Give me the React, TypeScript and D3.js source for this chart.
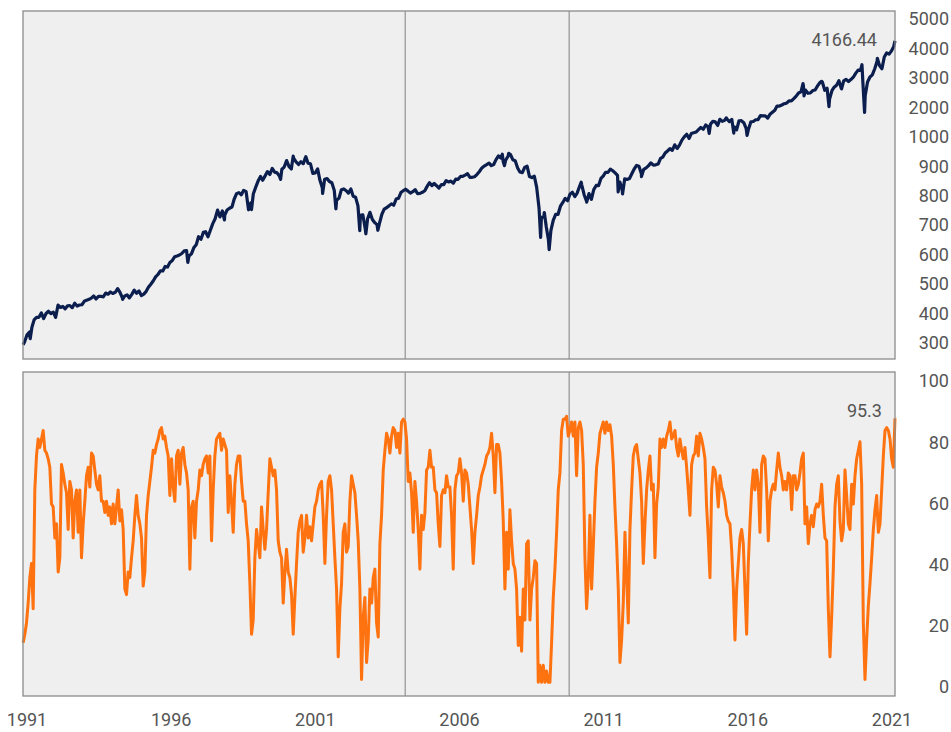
import React from "react";
import * as d3 from "d3";

// S&P 500 month-end closes, Oct 1990 .. Mar 2021
const spxFirstMonth = "1990-10";
const spxMonthly = [
  304.0, 322.2, 330.2,
  343.9, 367.1, 375.2, 375.3, 389.8, 371.2, 387.8, 395.4, 387.9, 392.5, 375.2, 417.1,
  408.8, 412.7, 403.7, 414.9, 415.4, 408.1, 424.2, 414.0, 417.8, 418.7, 431.4, 435.7,
  438.8, 443.4, 451.7, 440.2, 450.2, 450.5, 448.1, 463.6, 458.9, 467.8, 461.8, 466.5,
  481.6, 467.1, 445.8, 450.9, 456.5, 444.3, 458.3, 475.5, 462.7, 472.4, 453.7, 459.3,
  470.4, 487.4, 500.7, 514.7, 533.4, 544.8, 562.1, 561.9, 584.4, 581.5, 605.4, 615.9,
  636.0, 640.4, 645.5, 654.2, 669.1, 670.6, 639.9, 652.0, 687.3, 705.3, 757.0, 740.7,
  786.2, 790.8, 757.1, 801.3, 848.3, 885.1, 954.3, 899.5, 947.3, 914.6, 955.4, 970.4,
  980.3, 1049.3, 1101.8, 1111.8, 1090.8, 1133.8, 1120.7, 957.3, 1017.0, 1098.7, 1163.6, 1229.2,
  1279.6, 1238.3, 1286.4, 1335.2, 1301.8, 1372.7, 1328.7, 1320.4, 1282.7, 1362.9, 1388.9, 1469.3,
  1394.5, 1366.4, 1498.6, 1452.4, 1420.6, 1454.6, 1430.8, 1517.7, 1436.5, 1429.4, 1315.2, 1320.3,
  1366.0, 1239.9, 1160.3, 1249.5, 1255.8, 1224.4, 1211.2, 1133.6, 1040.9, 1059.8, 1139.5, 1148.1,
  1130.2, 1106.7, 1147.4, 1076.9, 1067.1, 989.8, 911.6, 916.1, 815.3, 885.8, 936.3, 879.8,
  855.7, 841.2, 848.2, 916.9, 963.6, 974.5, 990.3, 1008.0, 996.0, 1050.7, 1058.2, 1111.9,
  1131.1, 1144.9, 1126.2, 1107.3, 1120.7, 1140.8, 1101.7, 1104.2, 1114.6, 1130.2, 1173.8, 1211.9,
  1181.3, 1203.6, 1180.6, 1156.9, 1191.5, 1191.3, 1234.2, 1220.3, 1228.8, 1207.0, 1249.5, 1248.3,
  1280.1, 1280.7, 1294.9, 1310.6, 1270.1, 1270.2, 1276.7, 1303.8, 1335.9, 1377.9, 1400.6, 1418.3,
  1438.2, 1406.8, 1420.9, 1482.4, 1530.6, 1503.4, 1455.3, 1474.0, 1526.8, 1549.4, 1481.1, 1468.4,
  1378.6, 1330.6, 1322.7, 1385.6, 1400.4, 1280.0, 1267.4, 1282.8, 1166.4, 968.8, 896.2, 903.3,
  825.9, 735.1, 797.9, 872.8, 919.1, 919.3, 987.5, 1020.6, 1057.1, 1036.2, 1095.6, 1115.1,
  1073.9, 1104.5, 1169.4, 1186.7, 1089.4, 1030.7, 1101.6, 1049.3, 1141.2, 1183.3, 1180.6, 1257.6,
  1286.1, 1327.2, 1325.8, 1363.6, 1345.2, 1320.6, 1292.3, 1218.9, 1131.4, 1253.3, 1247.0, 1257.6,
  1312.4, 1365.7, 1408.5, 1397.9, 1310.3, 1362.2, 1379.3, 1406.6, 1440.7, 1412.2, 1416.2, 1426.2,
  1498.1, 1514.7, 1569.2, 1597.6, 1630.7, 1606.3, 1685.7, 1633.0, 1681.6, 1756.5, 1805.8, 1848.4,
  1782.6, 1859.5, 1872.3, 1884.0, 1923.6, 1960.2, 1930.7, 2003.4, 1972.3, 2018.1, 2067.6, 2058.9,
  1995.0, 2104.5, 2067.9, 2085.5, 2107.4, 2063.1, 2103.8, 1972.2, 1920.0, 2079.4, 2080.4, 2043.9,
  1940.2, 1932.2, 2059.7, 2065.3, 2097.0, 2098.9, 2173.6, 2171.0, 2168.3, 2126.2, 2199.0, 2238.8,
  2278.9, 2363.6, 2362.7, 2384.2, 2411.8, 2423.4, 2470.3, 2471.7, 2519.4, 2575.3, 2647.6, 2673.6,
  2823.8, 2713.8, 2640.9, 2648.1, 2705.3, 2718.4, 2816.3, 2901.5, 2914.0, 2711.7, 2760.2, 2506.9,
  2704.1, 2784.5, 2834.4, 2945.8, 2752.1, 2941.8, 2980.4, 2926.5, 2976.7, 3037.6, 3141.0, 3230.8,
  3225.5, 2954.2, 2584.6, 2912.4, 3044.3, 3100.3, 3271.1, 3500.3, 3363.0, 3270.0, 3621.6, 3756.1,
  3714.2, 3811.2, 3972.9,
];

// intra-month highs and lows that show as spikes, plus first and last print
const spxSpikeDates = [
  "1990-10-11", "1991-01-09", "1994-04-04", "1996-07-16", "1997-10-27", "1998-10-08",
  "1999-10-15", "2000-03-24", "2000-09-01", "2001-04-04", "2001-09-21", "2002-07-23",
  "2002-10-09", "2003-03-11", "2007-07-19", "2007-08-15", "2007-10-09", "2008-11-20",
  "2009-01-06", "2009-03-09", "2010-04-23", "2010-07-02", "2011-08-08", "2011-10-03",
  "2012-06-01", "2014-10-15", "2015-05-21", "2015-08-25", "2016-02-11", "2018-01-26",
  "2018-02-08", "2018-09-20", "2018-12-24", "2019-06-03", "2020-02-19", "2020-03-23",
  "2020-09-02", "2021-04-16",
];
const spxSpikeValues = [
  295.5, 311.5, 438.9, 605.2, 877.0, 959.4,
  1247.4, 1527.5, 1520.8, 1103.3, 965.8, 797.7,
  776.8, 800.7, 1553.1, 1406.7, 1565.2, 752.4,
  934.7, 676.5, 1217.3, 1022.6, 1119.5, 1099.2,
  1278.0, 1862.5, 2130.8, 1867.6, 1829.1, 2872.9,
  2581.0, 2930.8, 2351.1, 2744.5, 3386.2, 2237.4,
  3580.8, 4166.44,
];

// breadth oscillator, sampled at an even step (about 3 weeks) over the whole span
const oscStart = "1990-10-11";
const oscEnd = "2021-04-16";
const oscValues = [
  16, 19, 23, 30, 39, 44, 28, 70, 82, 88, 85, 88, 91, 84, 83, 81, 78, 65, 64, 53,
  58, 41, 46, 79, 76, 72, 69, 56, 73, 70, 53, 66, 70, 55, 70, 46, 58, 66, 75, 78,
  71, 83, 82, 77, 72, 70, 75, 66, 66, 62, 66, 61, 64, 58, 65, 58, 64, 70, 59, 63,
  56, 35, 33, 41, 39, 46, 52, 61, 68, 61, 58, 53, 36, 41, 61, 68, 73, 78, 84, 83,
  86, 88, 91, 92, 88, 89, 85, 82, 68, 81, 71, 66, 82, 84, 72, 83, 85, 79, 76, 70,
  42, 64, 66, 53, 66, 70, 77, 75, 79, 81, 82, 76, 82, 52, 70, 82, 88, 89, 90, 84,
  88, 86, 84, 62, 75, 66, 55, 72, 79, 82, 82, 73, 66, 66, 58, 52, 37, 19, 24, 46,
  56, 51, 46, 64, 56, 49, 56, 69, 81, 78, 75, 77, 70, 52, 48, 46, 30, 41, 49, 41,
  39, 33, 19, 32, 44, 55, 59, 61, 48, 53, 61, 53, 57, 52, 58, 64, 66, 70, 72, 73,
  61, 44, 61, 73, 75, 70, 58, 46, 35, 11, 28, 37, 55, 58, 48, 50, 66, 75, 72, 69,
  61, 52, 35, 3, 25, 32, 9, 17, 35, 30, 39, 42, 23, 18, 51, 61, 77, 84, 90, 88,
  83, 89, 92, 91, 85, 90, 83, 94, 95, 94, 88, 73, 76, 69, 55, 73, 66, 56, 42, 61,
  56, 62, 77, 78, 84, 78, 78, 70, 69, 58, 50, 68, 70, 69, 75, 71,
  71, 61, 42, 70, 75, 76, 81, 76, 66, 77, 76, 72, 64, 56, 44, 55, 61, 68, 71, 75,
  77, 79, 82, 83, 85, 90, 82, 69, 86, 86, 83, 73, 59, 35, 55, 42, 63, 52, 44, 42,
  35, 15, 25, 13, 35, 24, 51, 52, 24, 35, 39, 45, 44, 2, 8, 2, 8, 2, 6, 2,
  2, 16, 32, 42, 55, 70, 76, 91, 95, 95, 96, 89, 91, 94, 89, 94, 75, 92, 94, 91,
  79, 46, 28, 39, 61, 35, 50, 66, 78, 83, 90, 92, 94, 90, 94, 91, 93, 89, 79, 64,
  51, 35, 9, 17, 30, 55, 39, 23, 56, 70, 82, 85, 86, 81, 76, 66, 44, 58, 70, 77,
  82, 70, 72, 46, 65, 71, 88, 85, 88, 85, 89, 91, 94, 88, 89, 91, 85, 82, 88, 84,
  81, 85, 78, 70, 61, 79, 82, 83, 89, 82, 90, 88, 85, 81, 64, 53, 39, 70, 78, 77,
  72, 64, 75, 71, 69, 66, 61, 59, 58, 49, 36, 17, 35, 44, 53, 56, 51, 35, 19, 44,
  58, 70, 77, 70, 77, 72, 55, 79, 82, 81, 70, 52, 66, 70, 72, 70, 77, 83, 78, 75,
  70, 73, 70, 76, 75, 63, 75, 75, 70, 72, 76, 81, 83, 58, 64, 51, 58, 61, 57, 63,
  65, 64, 66, 72, 61, 53, 52, 28, 11, 25, 42, 64, 72, 75, 59, 52, 56, 77, 68, 58,
  56, 72, 65, 75, 81, 84, 87, 72, 23, 3, 17, 29, 37, 46, 56, 63, 68, 55, 58, 70,
  82, 91, 92, 91, 88, 81, 78, 95.3,
];

const eventDates = ["2004-02-24", "2009-11-20"];
const xTickLabels = ["1991", "1996", "2001", "2006", "2011", "2016", "2021"];
const spxTickLabels = ["300", "400", "500", "600", "700", "800", "900", "1000", "2000", "3000", "4000", "5000"];
const oscTickLabels = ["0", "20", "40", "60", "80", "100"];

const W = 951;
const H = 732;
const left = 23;
const right = 895;
const topBox = { y0: 11, y1: 359 };
const botBox = { y0: 372, y1: 696 };
const font = "Roboto, 'Liberation Sans', sans-serif";
const textColor = "#555555";

const parse = d3.timeParse("%Y-%m-%d");

type Pt = { date: Date; value: number };

export default function App() {
  const x = d3
    .scaleTime()
    .domain([parse("1990-10-09")!, parse("2021-04-16")!])
    .range([left, right]);

  // price line sits on a log scale, labels are spread evenly along the side
  const yTop = d3.scaleLog().domain([300, 5000]).range([343, 20]);
  const yTopLabel = d3.scalePoint().domain(spxTickLabels).range([343, 19]);
  const yBot = d3.scaleLinear().domain([0, 100]).range([688, 405]);
  const yBotLabel = d3.scalePoint().domain(oscTickLabels).range([687, 381]);
  const xLabel = d3.scalePoint().domain(xTickLabels).range([27, 892]);

  const month0 = d3.timeParse("%Y-%m")(spxFirstMonth)!;
  const spx: Pt[] = spxMonthly
    .map((v, i) => ({
      date: d3.timeDay.offset(d3.timeMonth.offset(month0, i + 1), -1),
      value: v,
    }))
    .concat(spxSpikeDates.map((d, i) => ({ date: parse(d)!, value: spxSpikeValues[i] })))
    .sort((a, b) => +a.date - +b.date);

  const t0 = +parse(oscStart)!;
  const t1 = +parse(oscEnd)!;
  const osc: Pt[] = oscValues.map((v, i) => ({
    date: new Date(t0 + ((t1 - t0) * i) / (oscValues.length - 1)),
    value: v,
  }));

  const topLine = d3
    .line<Pt>()
    .x((d) => x(d.date))
    .y((d) => yTop(d.value));
  const botLine = d3
    .line<Pt>()
    .x((d) => x(d.date))
    .y((d) => yBot(d.value));

  const spxLast = spx[spx.length - 1];
  const oscLast = osc[osc.length - 1];

  const panel = (box: { y0: number; y1: number }) => (
    <rect x={left} y={box.y0} width={right - left} height={box.y1 - box.y0} fill="#efefef" />
  );
  const border = (box: { y0: number; y1: number }) => (
    <rect
      x={left}
      y={box.y0}
      width={right - left}
      height={box.y1 - box.y0}
      fill="none"
      stroke="#8a8a8a"
      strokeWidth={1.3}
    />
  );
  const events = (box: { y0: number; y1: number }) =>
    eventDates.map((d) => (
      <line
        key={d}
        x1={x(parse(d)!)}
        x2={x(parse(d)!)}
        y1={box.y0}
        y2={box.y1}
        stroke="#9a9a9a"
        strokeWidth={1.3}
      />
    ));

  return (
    <svg
      width={W}
      height={H}
      style={{ position: "absolute", left: 0, top: 0, display: "block", background: "#fff" }}
      fontFamily={font}
    >
      {panel(topBox)}
      {panel(botBox)}
      {events(topBox)}
      {events(botBox)}

      <path
        d={topLine(spx) || ""}
        fill="none"
        stroke="#0b1e4d"
        strokeWidth={3.2}
        strokeLinejoin="round"
      />
      <path
        d={botLine(osc) || ""}
        fill="none"
        stroke="#ff7210"
        strokeWidth={3}
        strokeLinejoin="round"
      />

      {border(topBox)}
      {border(botBox)}

      {/* last-value notes */}
      <text
        x={x(spxLast.date) - 18}
        y={yTop(spxLast.value) + 5}
        textAnchor="end"
        fontSize={18}
        fill={textColor}
      >
        {d3.format(".2f")(spxLast.value)}
      </text>
      <text
        x={x(oscLast.date) - 13}
        y={yBot(oscLast.value) - 1}
        textAnchor="end"
        fontSize={18}
        fill={textColor}
      >
        {d3.format(".1f")(oscLast.value)}
      </text>

      {/* right-hand labels */}
      {spxTickLabels.map((t) => (
        <text key={t} x={949} y={yTopLabel(t)} dy="0.35em" textAnchor="end" fontSize={18} fill={textColor}>
          {t}
        </text>
      ))}
      {oscTickLabels.map((t) => (
        <text key={t} x={949} y={yBotLabel(t)} dy="0.35em" textAnchor="end" fontSize={18} fill={textColor}>
          {t}
        </text>
      ))}

      {/* year labels */}
      {xTickLabels.map((t) => (
        <text key={t} x={xLabel(t)} y={726} textAnchor="middle" fontSize={18} fill={textColor}>
          {t}
        </text>
      ))}
    </svg>
  );
}
